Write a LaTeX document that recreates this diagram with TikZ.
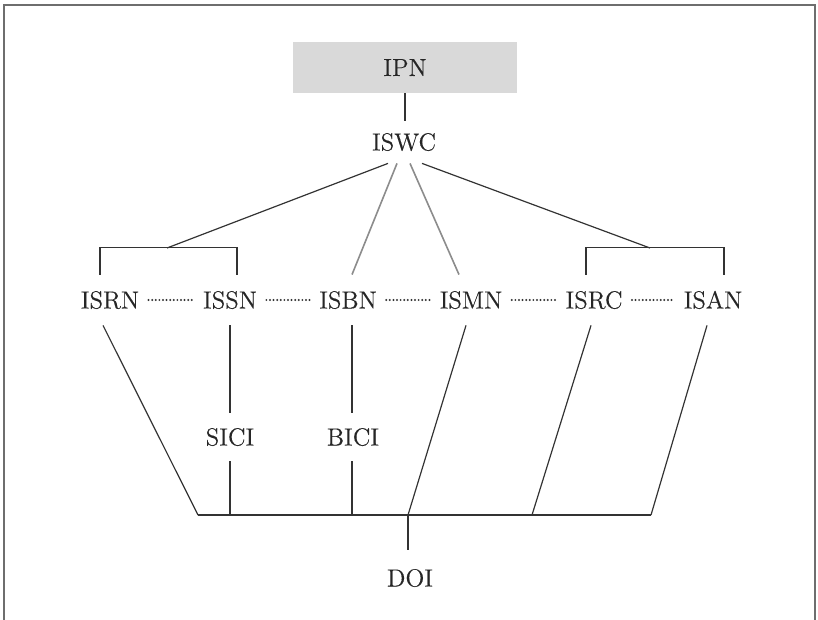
\documentclass[tikz,border=0pt]{standalone}
\usepackage{fontspec}
\newfontfamily\lblfont{Latin Modern Roman}[FakeBold=0.3]
\usetikzlibrary{calc}
\definecolor{ink}{HTML}{333333}
\definecolor{textink}{HTML}{262626}
\definecolor{softink}{HTML}{8C8C8C}
\definecolor{boxfill}{HTML}{D9D9D9}
\definecolor{framec}{HTML}{6E6E6E}
\begin{document}
\begin{tikzpicture}[x=0.5pt,y=-0.5pt,
  lbl/.style={font=\lblfont\fontsize{12.4}{14}\selectfont, text=textink,
    text height=8.5pt, text depth=0pt, inner xsep=4.5pt, inner ysep=0pt},
  rowlbl/.style={lbl, minimum height=25pt},
  link/.style={draw=ink, line width=0.6pt},
  softlink/.style={draw=softink, line width=0.8pt},
  dots/.style={draw=ink, line width=1.1pt, dash pattern=on 0pt off 1.8pt, line cap=round}]
\useasboundingbox (0,0) rectangle (818,620);

% outer frame (bottom edge runs off the page)
\draw[framec, line width=0.9pt] (4,630) -- (4,5) -- (815,5) -- (815,630);

% top of the hierarchy
\node[lbl, fill=boxfill, minimum width=112pt, minimum height=25.5pt] (ipn) at (405,67.5) {IPN};
\node[lbl, minimum height=21pt] (iswc) at (404,142) {ISWC};
\draw[link] (ipn.south) -- (ipn.south |- iswc.north);

% identifier row
\node[rowlbl] (isrn) at (110,300) {ISRN};
\node[rowlbl] (issn) at (230,300) {ISSN};
\node[rowlbl] (isbn) at (348,300) {ISBN};
\node[rowlbl] (ismn) at (471,300) {ISMN};
\node[rowlbl] (isrc) at (594,300) {ISRC};
\node[rowlbl] (isan) at (713,300) {ISAN};

\foreach \a/\b in {isrn/issn, issn/isbn, isbn/ismn, ismn/isrc, isrc/isan}
  \draw[dots] (\a.east) -- (\b.west);

% brackets grouping pairs of identifiers
\coordinate (lpeak) at (167,248);
\coordinate (rpeak) at (650,248);
\draw[link] ([xshift=-5pt]isrn.north) -- ++(0,-27) -| ([xshift=3.5pt]issn.north);
\draw[link] ([xshift=-4pt]isrc.north) -- ++(0,-27) -| ([xshift=5.5pt]isan.north);

% links from ISWC
\draw[link] ([xshift=-8pt]iswc.south) -- (lpeak);
\draw[softlink] ([xshift=-3.5pt]iswc.south) -- ([xshift=2pt]isbn.north);
\draw[softlink] ([xshift=3pt]iswc.south) -- ([xshift=-6pt]ismn.north);
\draw[link] ([xshift=9pt]iswc.south) -- (rpeak);

% second level identifiers
\node[lbl, minimum height=24pt] (sici) at (230,437) {SICI};
\node[lbl, minimum height=24pt] (bici) at (353,437) {BICI};
\node[lbl, minimum height=28pt] (doi) at (410,578) {DOI};

% common bus feeding DOI
\coordinate (busL) at (198,515);
\coordinate (busR) at (651,515);
\coordinate (busD) at (408,515);
\coordinate (busC) at (532,515);
\draw[link] (busL) -- (busR);

\draw[link] ([xshift=-3.5pt]isrn.south) -- (busL);
\draw[link] (issn.south) -- (sici.north);
\draw[link] (sici.south) -- (sici.south |- busL);
\draw[link] ([xshift=2pt]isbn.south) -- ([xshift=2pt]isbn.south |- bici.north);
\draw[link] ([xshift=2pt]isbn.south |- bici.south) -- ([xshift=2pt]isbn.south |- busL);
\draw[link] ([xshift=-2.5pt]ismn.south) -- (busD);
\draw[link] ([xshift=-1.5pt]isrc.south) -- (busC);
\draw[link] ([xshift=-3pt]isan.south) -- (busR);
\draw[link] (busD) -- (busD |- doi.north);
\end{tikzpicture}
\end{document}
